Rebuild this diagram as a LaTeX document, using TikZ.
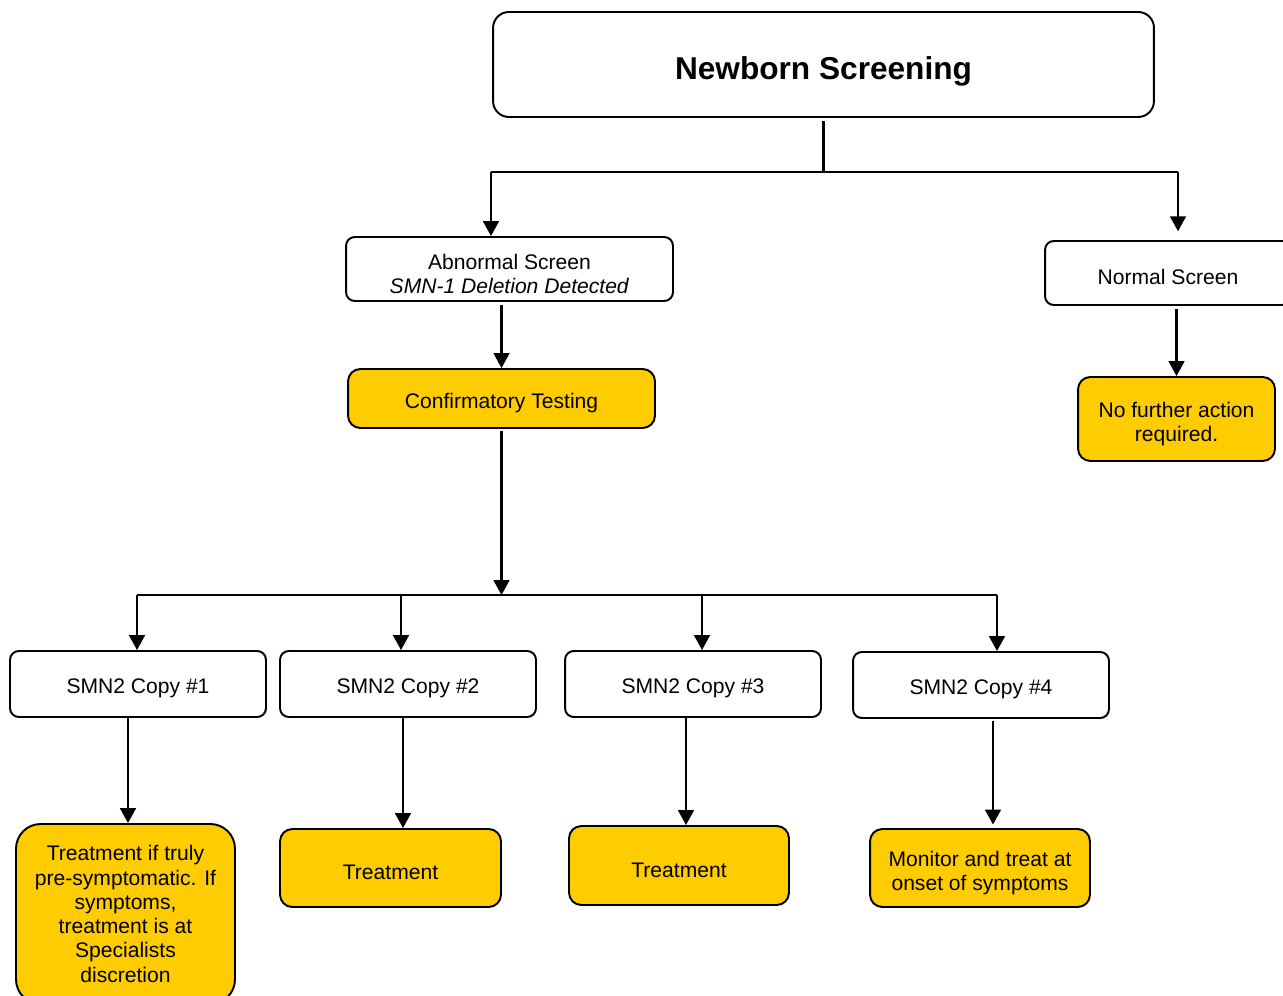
\documentclass[tikz,border=0pt]{standalone}
\usepackage{fontspec}
\setmainfont{Liberation Sans}
\usetikzlibrary{arrows.meta}
\definecolor{nbsyellow}{HTML}{FFCC00}
\newcommand{\lift}{\rule{0pt}{14.5pt}}
\tikzset{
  box/.style={draw,line width=1.1pt,inner sep=0pt,align=center,
    font=\fontsize{12}{13.8}\selectfont,execute at begin node={\rule{0pt}{13.5pt}}},
  whitebox/.style={box,fill=white,rounded corners=5pt},
  yellowbox/.style={box,fill=nbsyellow,rounded corners=7pt},
  arr/.style={-{Triangle[length=8.5pt,width=9pt]},line width=1.2pt},
  bus/.style={line width=1.2pt},
}
\begin{document}
\begin{tikzpicture}[x=0.02cm,y=-0.02cm]
  \useasboundingbox (0,0) rectangle (1283,996);
  % screening result
  \node[whitebox,rounded corners=9pt,minimum width=13.22cm,minimum height=2.1cm,
    font=\fontsize{18}{21}\selectfont\bfseries] (title) at (823.5,64.5) {\rule{0pt}{21pt}Newborn Screening};
  \node[whitebox,minimum width=6.54cm,minimum height=1.28cm] (abn) at (509.5,269)
    {\lift Abnormal Screen\\\textit{SMN-1 Deletion Detected}};
  \node[whitebox,minimum width=4.92cm,minimum height=1.28cm] (norm) at (1168,273) {Normal Screen};
  \node[yellowbox,minimum width=6.14cm,minimum height=1.18cm] (conf) at (501.5,398.5) {Confirmatory Testing};
  \node[yellowbox,minimum width=3.94cm,minimum height=1.68cm] (nofur) at (1176.5,419)
    {\lift No further action\\required.};
  % copy number
  \node[whitebox,minimum width=5.12cm,minimum height=1.32cm] (s1) at (138,684) {SMN2 Copy \#1};
  \node[whitebox,minimum width=5.12cm,minimum height=1.32cm] (s2) at (408,684) {SMN2 Copy \#2};
  \node[whitebox,minimum width=5.12cm,minimum height=1.32cm] (s3) at (693,684) {SMN2 Copy \#3};
  \node[whitebox,minimum width=5.12cm,minimum height=1.32cm] (s4) at (981,685) {SMN2 Copy \#4};
  % management
  \node[yellowbox,rounded corners=14pt,minimum width=4.38cm,minimum height=3.6cm] (t1) at (125.5,914)
    {Treatment if truly\\pre-symptomatic. If\\symptoms,\\treatment is at\\Specialists\\discretion};
  \node[yellowbox,minimum width=4.42cm,minimum height=1.56cm] (t2) at (390.5,868) {Treatment};
  \node[yellowbox,minimum width=4.4cm,minimum height=1.58cm] (t3) at (679,865.5) {Treatment};
  \node[yellowbox,minimum width=4.4cm,minimum height=1.56cm] (t4) at (980,868)
    {\lift Monitor and treat at\\onset of symptoms};
  % connectors
  \coordinate (topl) at (491,172);
  \coordinate (topr) at (1178,172);
  \coordinate (botl) at (137,595);
  \coordinate (botr) at (997,595);
  \coordinate (b2) at (401,595);
  \coordinate (b3) at (702,595);
  \coordinate (d1) at (128,0);
  \coordinate (d2) at (403,0);
  \coordinate (d3) at (686,0);
  \coordinate (d4) at (993,0);
  \draw[bus] ([yshift=-2pt]title.south) -- (title.south |- topl);
  \draw[bus] (topl) -- (topr);
  \draw[arr] (topl) -- (topl |- abn.north);
  \draw[arr,shorten >=5pt] (topr) -- (topr |- norm.north);
  \draw[arr] ([yshift=-2pt]conf.north |- abn.south) -- (conf.north);
  \draw[arr] ([yshift=-2pt]nofur.north |- norm.south) -- (nofur.north);
  \draw[arr] ([yshift=-1pt]conf.south) -- (conf.south |- botl);
  \draw[bus] (botl) -- (botr);
  \draw[arr] (botl) -- (botl |- s1.north);
  \draw[arr] (b2) -- (b2 |- s2.north);
  \draw[arr] (b3) -- (b3 |- s3.north);
  \draw[arr] (botr) -- (botr |- s4.north);
  \draw[arr] (s1.south -| d1) -- (t1.north -| d1);
  \draw[arr] (s2.south -| d2) -- (t2.north -| d2);
  \draw[arr] (s3.south -| d3) -- (t3.north -| d3);
  \draw[arr] ([yshift=-1pt]s4.south -| d4) -- ([yshift=2pt]t4.north -| d4);
\end{tikzpicture}
\end{document}
